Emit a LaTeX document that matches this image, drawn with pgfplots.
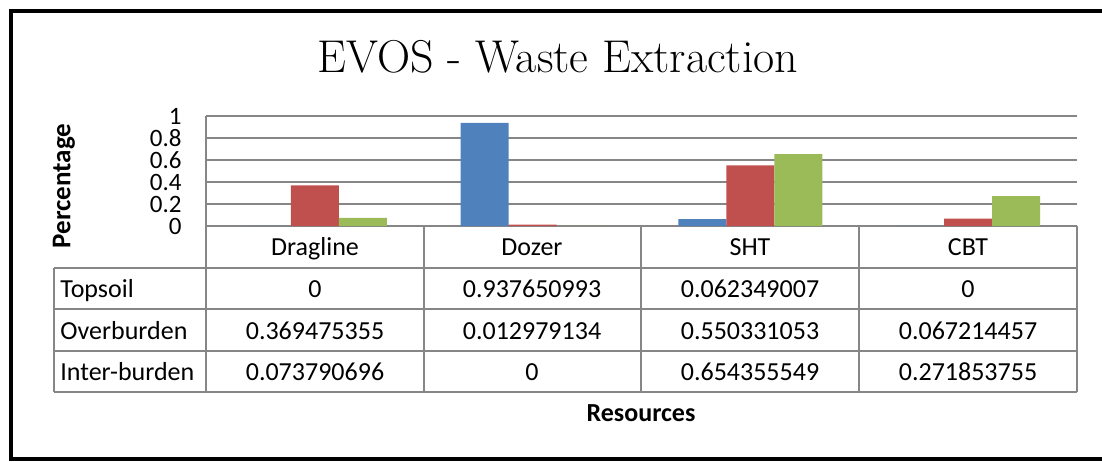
\documentclass[border=0pt]{standalone}
\usepackage{pgfplots}
\pgfplotsset{compat=1.18}
\usepackage{fontspec}
\setsansfont{Carlito}

\definecolor{sblue}{HTML}{4F81BD}
\definecolor{sred}{HTML}{C0504D}
\definecolor{sgreen}{HTML}{9BBB59}
\definecolor{gridgray}{RGB}{134,134,134}

\newcommand\cf{\sffamily\fontsize{13}{13}\selectfont}

\begin{document}
\begin{tikzpicture}
% page = 1102 x 461 px, 1 px = 0.5pt
\useasboundingbox (0pt,0pt) rectangle (551pt,-230.5pt);

\begin{axis}[
    at={(103pt,-113pt)}, anchor=south west,
    scale only axis,
    width=435.5pt, height=55pt,
    ybar=0pt, bar width=24pt,
    xmin=-0.5, xmax=3.5,
    ymin=0, ymax=1,
    enlargelimits=false,
    xtick=\empty,
    ytick={0,0.2,0.4,0.6,0.8,1},
    ymajorgrids,
    grid style={gridgray, line width=0.9pt},
    axis x line*=bottom, axis y line*=left,
    axis line style={gridgray, line width=0.9pt},
    major tick length=0pt,
    /pgf/number format/assume math mode=true,
    yticklabel style={font=\sffamily\fontsize{12.5}{12.5}\selectfont, inner sep=0pt, anchor=east, xshift=-12pt},
]
% Topsoil
\addplot[fill=sblue, draw=none] coordinates {(0,0) (1,0.937650993) (2,0.062349007) (3,0)};
% Overburden
\addplot[fill=sred, draw=none] coordinates {(0,0.369475355) (1,0.012979134) (2,0.550331053) (3,0.067214457)};
% Inter-burden
\addplot[fill=sgreen, draw=none] coordinates {(0,0.073790696) (1,0) (2,0.654355549) (3,0.271853755)};
\end{axis}

\begin{scope}[x=0.5pt, y=-0.5pt]
% outer frame (cropped on the right)
\draw[black, line width=2pt] (1102,10.5) -- (10.5,10.5) -- (10.5,458.5) -- (1102,458.5);

% title
\node[anchor=base, inner sep=0pt, font=\rmfamily\fontsize{23}{23}\selectfont] at (558,72) {EVOS - Waste Extraction};

% data table
\draw[gridgray, line width=0.9pt]
    (54,268) -- (1077,268)
    (54,309) -- (1077,309)
    (54,351) -- (1077,351)
    (54,392) -- (1077,392)
    (54,268) -- (54,392)
    (206,226) -- (206,392)
    (424,226) -- (424,392)
    (641,226) -- (641,392)
    (859,226) -- (859,392)
    (1077,226) -- (1077,392);

\foreach \x/\t in {315/Dragline, 532/Dozer, 750/SHT, 968/CBT}
    \node[font=\cf, anchor=base, inner sep=0pt] at (\x,255) {\t};

\node[font=\cf, anchor=base west, inner sep=0pt] at (60,297) {Topsoil};
\node[font=\cf, anchor=base west, inner sep=0pt] at (60,339) {Overburden};
\node[font=\cf, anchor=base west, inner sep=0pt] at (60,380) {Inter-burden};

\foreach \x/\t in {315/0, 532/0.937650993, 750/0.062349007, 968/0}
    \node[font=\cf, anchor=base, inner sep=0pt] at (\x,297) {\t};
\foreach \x/\t in {315/0.369475355, 532/0.012979134, 750/0.550331053, 968/0.067214457}
    \node[font=\cf, anchor=base, inner sep=0pt] at (\x,339) {\t};
\foreach \x/\t in {315/0.073790696, 532/0, 750/0.654355549, 968/0.271853755}
    \node[font=\cf, anchor=base, inner sep=0pt] at (\x,380) {\t};

% axis titles
\node[font=\cf\bfseries] at (641,413) {Resources};
\node[font=\sffamily\bfseries\fontsize{13.5}{13.5}\selectfont, rotate=90] at (64,186) {Percentage};
\end{scope}
\end{tikzpicture}
\end{document}
